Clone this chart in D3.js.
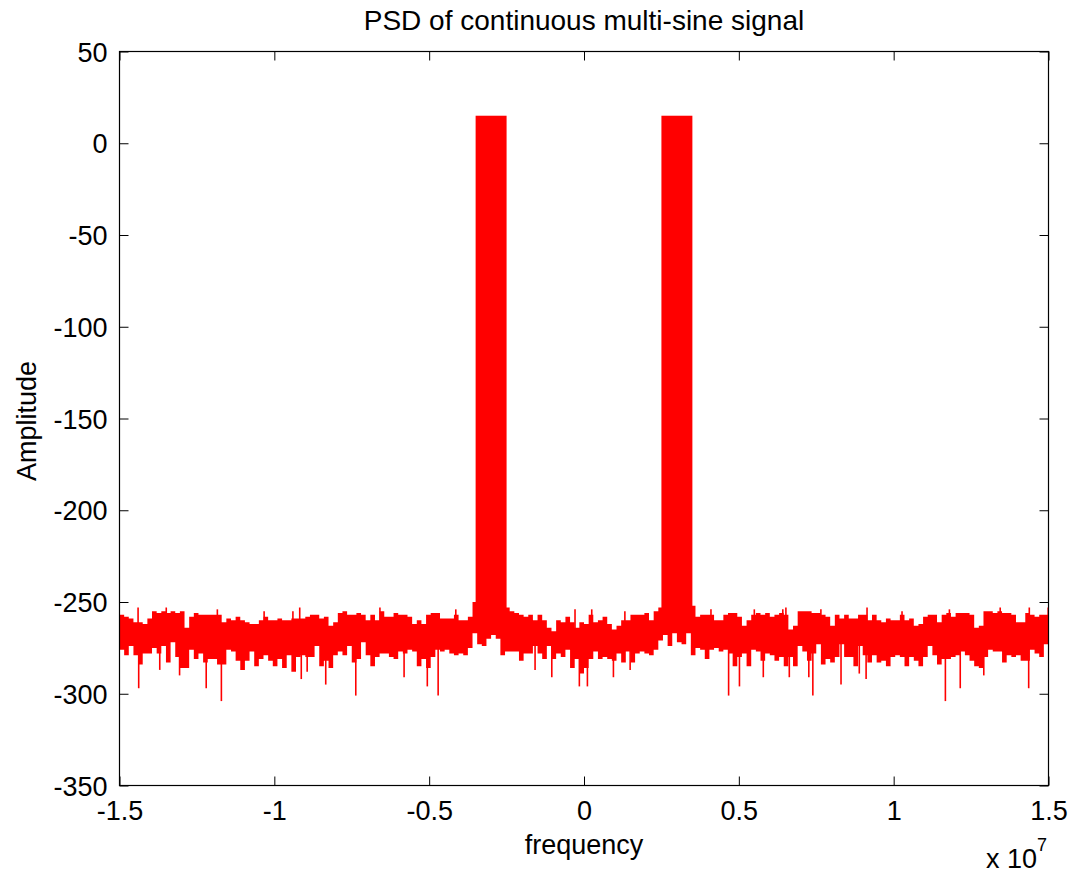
<!DOCTYPE html>
<html><head><meta charset="utf-8">
<script src="https://cdn.jsdelivr.net/npm/d3@7"></script>
<style>body{margin:0;background:#fff}svg text{font-family:"Liberation Sans",Arial,Helvetica,sans-serif;fill:#000}</style>
</head><body><svg id="c" width="1070" height="875"></svg>
<script>
// ---- data ----
const binStartHz = -1.5e7;
const binWidthHz = 1.5e5;           // 200 bins across the span
const noiseHigh = [
-257,-258,-259,-261,-261,-262,-259,-255,-256,-255,-256,-255,-256,-255,-264,-258,-256,-257,-257,-257,-257,-257,-261,-259,-260,-258,-260,-261,-262,-262,-260,-258,-260,-260,-259,-260,-260,-259,-259,-259,
-258,-257,-257,-259,-258,-263,-261,-256,-255,-257,-257,-256,-257,-260,-257,-260,-255,-258,-258,-256,-257,-257,-258,-262,-260,-262,-257,-256,-256,-259,-259,-259,-257,-260,-260,-258,-250,-252,-252,-252,
-252,-252,-252,-253,-255,-256,-257,-258,-257,-260,-257,-260,-264,-266,-260,-261,-258,-261,-264,-261,-262,-257,-261,-260,-258,-262,-265,-263,-260,-260,-257,-257,-257,-256,-260,-255,-253,-252,-252,-252,
-252,-252,-252,-252,-258,-257,-257,-257,-260,-260,-257,-256,-256,-258,-263,-260,-257,-256,-257,-256,-258,-257,-256,-257,-265,-263,-255,-255,-255,-256,-256,-257,-258,-263,-257,-259,-257,-259,-259,-257,
-257,-260,-257,-260,-261,-259,-260,-260,-257,-260,-259,-263,-262,-258,-257,-257,-261,-257,-256,-258,-256,-256,-256,-257,-264,-263,-255,-255,-256,-255,-256,-256,-257,-261,-261,-256,-257,-258,-257,-257];
const noiseLow = [
-276,-279,-274,-279,-284,-278,-278,-275,-278,-274,-283,-272,-280,-286,-286,-276,-281,-278,-283,-281,-281,-284,-284,-276,-277,-282,-287,-282,-277,-285,-281,-279,-282,-285,-281,-286,-279,-288,-280,-279,
-280,-280,-274,-285,-282,-286,-279,-277,-279,-274,-283,-281,-272,-279,-285,-280,-278,-278,-280,-281,-277,-278,-276,-277,-285,-281,-286,-280,-276,-277,-276,-278,-279,-278,-279,-275,-267,-273,-274,-270,
-268,-270,-279,-277,-277,-277,-282,-278,-278,-274,-278,-281,-274,-281,-278,-280,-276,-286,-281,-289,-286,-281,-277,-281,-280,-281,-282,-278,-283,-277,-283,-278,-277,-278,-279,-276,-271,-268,-274,-267,
-272,-273,-267,-279,-275,-276,-281,-276,-275,-277,-276,-278,-285,-280,-278,-285,-276,-277,-282,-278,-279,-282,-280,-285,-280,-285,-274,-277,-282,-278,-273,-284,-281,-283,-280,-273,-280,-280,-285,-274,
-279,-283,-279,-283,-282,-285,-280,-279,-280,-285,-280,-282,-285,-280,-274,-279,-284,-281,-281,-280,-279,-277,-279,-282,-285,-286,-280,-276,-277,-277,-283,-279,-280,-279,-282,-282,-276,-278,-280,-273];
const spikeFreqMHz = [-14.40,-14.38,-13.70,-13.49,-13.06,-12.20,-11.84,-11.71,-10.33,-9.40,-9.18,-9.13,-8.94,-8.34,-7.37,-6.59,-5.81,-5.06,-4.71,-4.14,-1.58,-1.04,-0.29,-0.15,0.11,0.25,0.95,1.32,1.49,4.10,4.67,5.02,5.50,5.79,6.42,6.52,6.63,7.26,7.39,7.65,8.30,8.89,9.11,9.14,10.27,11.67,11.80,12.15,12.91,13.44,14.36,14.38,14.99];
const spikeLevel = [-253,-297,-287,-253,-290,-297,-254,-304,-255,-255,-253,-292,-288,-295,-301,-253,-291,-296,-301,-254,-287,-291,-254,-296,-296,-254,-291,-255,-287,-254,-301,-296,-254,-291,-254,-253,-291,-291,-301,-254,-295,-289,-292,-253,-255,-304,-254,-297,-290,-253,-297,-253,-253];
const toneBandStart = [-3.5e6, 2.5e6];
const toneBandEnd = [-2.5e6, 3.5e6];
const toneLevel = [15, 15];
const xTicks = [-1.5e7, -1e7, -5e6, 0, 5e6, 1e7, 1.5e7];
const xTickLabels = ["-1.5", "-1", "-0.5", "0", "0.5", "1", "1.5"];
const yTicks = [-350, -300, -250, -200, -150, -100, -50, 0, 50];
const yTickLabels = ["-350", "-300", "-250", "-200", "-150", "-100", "-50", "0", "50"];
const titleText = "PSD of continuous multi-sine signal";
const xLabel = "frequency";
const yLabel = "Amplitude";

// ---- drawing ----
const L = 119.5, R = 1048.5, T = 51.5, B = 785.5;
const svg = d3.select("#c");
const x = d3.scaleLinear().domain([-1.5e7, 1.5e7]).range([L, R]);
const y = d3.scaleLinear().domain([-350, 50]).range([B, T]);
const red = "#ff0000";

const plot = svg.append("g");
// tone bands
plot.selectAll("rect.tone").data(toneBandStart).join("rect")
  .attr("class", "tone")
  .attr("x", (d) => x(d))
  .attr("width", (d, i) => x(toneBandEnd[i]) - x(d))
  .attr("y", (d, i) => y(toneLevel[i]))
  .attr("height", (d, i) => y(-262) - y(toneLevel[i]))
  .attr("fill", red);

// noise band
const band = noiseHigh.map((h, i) => ({ f: binStartHz + i * binWidthHz, h: h, l: noiseLow[i] }));
band.push({ f: 1.5e7, h: noiseHigh[noiseHigh.length - 1], l: noiseLow[noiseLow.length - 1] });
const area = d3.area().x((d) => x(d.f)).y0((d) => y(d.l)).y1((d) => y(d.h)).curve(d3.curveStepAfter);
plot.append("path").datum(band).attr("d", area).attr("fill", red);

// spikes
plot.selectAll("line.spike").data(spikeFreqMHz).join("line")
  .attr("class", "spike")
  .attr("x1", (d) => x(d * 1e6)).attr("x2", (d) => x(d * 1e6))
  .attr("y1", y(-268)).attr("y2", (d, i) => y(spikeLevel[i]))
  .attr("stroke", red).attr("stroke-width", 1.6);

// axes
const fmtX = (d) => xTickLabels[xTicks.indexOf(d)];
const fmtY = (d) => yTickLabels[yTicks.indexOf(d)];
const axB = svg.append("g").attr("transform", `translate(0,${B})`)
  .call(d3.axisBottom(x).tickValues(xTicks).tickFormat(fmtX).tickSizeInner(-9).tickSizeOuter(0));
axB.selectAll("text").attr("y", 34).attr("dy", null).style("font-size", "27px");
svg.append("g").attr("transform", `translate(0,${T})`)
  .call(d3.axisTop(x).tickValues(xTicks).tickFormat("").tickSizeInner(-9).tickSizeOuter(0));
const axLft = svg.append("g").attr("transform", `translate(${L},0)`)
  .call(d3.axisLeft(y).tickValues(yTicks).tickFormat(fmtY).tickSizeInner(-9).tickSizeOuter(0));
axLft.selectAll("text").attr("x", -12).attr("dy", "0.36em").style("font-size", "27px");
svg.append("g").attr("transform", `translate(${R},0)`)
  .call(d3.axisRight(y).tickValues(yTicks).tickFormat("").tickSizeInner(-9).tickSizeOuter(0));
svg.selectAll(".domain").remove();
svg.selectAll(".tick line").attr("stroke", "#000");
svg.selectAll(".tick text").attr("font-family", null);
svg.append("rect").attr("x", L).attr("y", T).attr("width", R - L).attr("height", B - T)
  .attr("fill", "none").attr("stroke", "#000").attr("stroke-width", 1.2);

// texts
svg.append("text").attr("x", (L + R) / 2).attr("y", 30).attr("text-anchor", "middle")
  .style("font-size", "28px").text(titleText);
svg.append("text").attr("x", (L + R) / 2).attr("y", 854).attr("text-anchor", "middle")
  .style("font-size", "27px").text(xLabel);
svg.append("text").attr("transform", "translate(36,421) rotate(-90)").attr("text-anchor", "middle")
  .style("font-size", "27px").text(yLabel);
const ex = svg.append("text").attr("x", 986).attr("y", 868).style("font-size", "27px");
ex.append("tspan").text("x 10");
ex.append("tspan").attr("dy", -17).style("font-size", "18px").text("7");
</script></body></html>
